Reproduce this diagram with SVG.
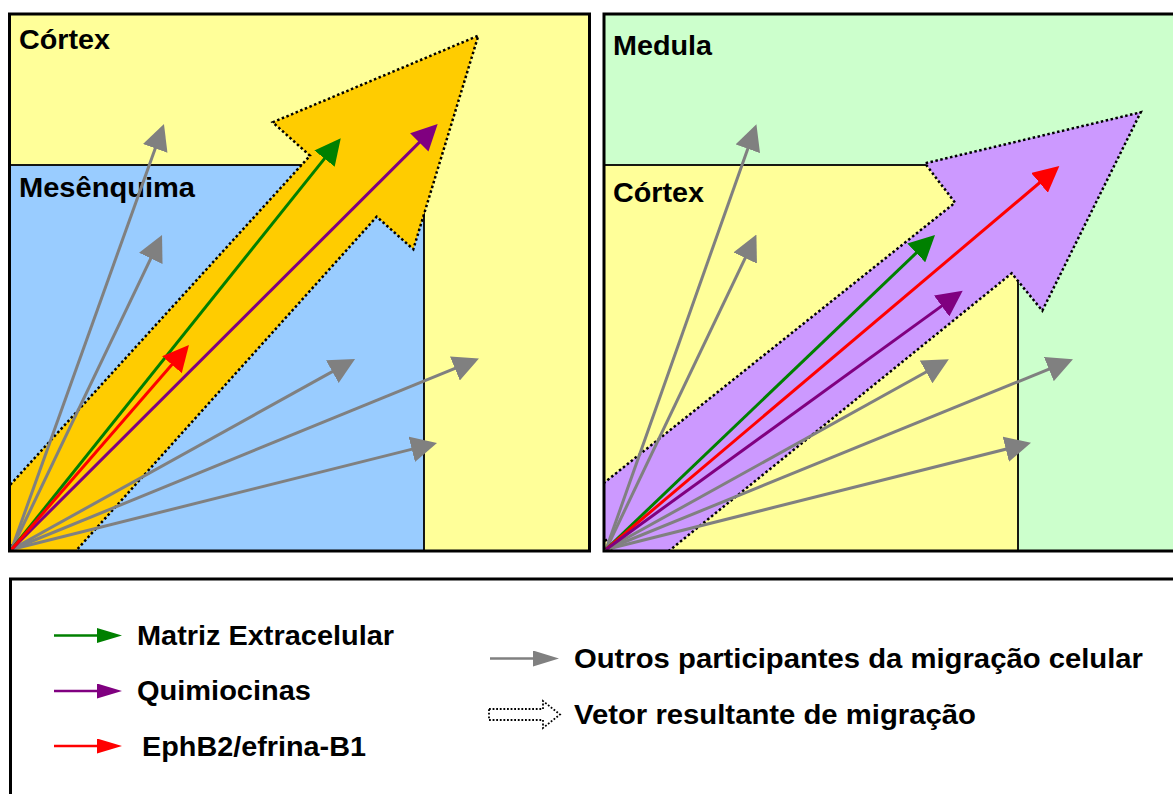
<svg xmlns="http://www.w3.org/2000/svg" width="1173" height="794" viewBox="0 0 1173 794">
<style>
.lbl{font-family:"Liberation Sans",Arial,sans-serif;font-weight:bold;font-size:28px;fill:#000}
.frame{fill:none;stroke:#000;stroke-width:3}
.inner{stroke:#000;stroke-width:1.8}
.big{stroke:#000;stroke-width:2.5;stroke-dasharray:2.5 2.5}
.ln{fill:none;stroke-width:3}
.lg{fill:none;stroke-width:2.5}
.gray{stroke:#808080}
.green{stroke:#008000}
.purple{stroke:#800080}
.red{stroke:#FF0000}
</style>
<defs>
<marker id="mGray" markerUnits="userSpaceOnUse" markerWidth="26" markerHeight="26" refX="16" refY="13" orient="auto"><path d="M0,0 L26,13 L0,26 Z" fill="#808080"/></marker>
<marker id="mGreen" markerUnits="userSpaceOnUse" markerWidth="26" markerHeight="26" refX="16" refY="13" orient="auto"><path d="M0,0 L26,13 L0,26 Z" fill="#008000"/></marker>
<marker id="mPurple" markerUnits="userSpaceOnUse" markerWidth="26" markerHeight="26" refX="16" refY="13" orient="auto"><path d="M0,0 L26,13 L0,26 Z" fill="#800080"/></marker>
<marker id="mRed" markerUnits="userSpaceOnUse" markerWidth="26" markerHeight="26" refX="16" refY="13" orient="auto"><path d="M0,0 L26,13 L0,26 Z" fill="#FF0000"/></marker>
<marker id="lGray" markerUnits="userSpaceOnUse" markerWidth="26" markerHeight="16" refX="16" refY="8" orient="auto"><path d="M0,0 L26,8 L0,16 Z" fill="#808080"/></marker>
<marker id="lGreen" markerUnits="userSpaceOnUse" markerWidth="25" markerHeight="15" refX="15" refY="7.5" orient="auto"><path d="M0,0 L25,7.5 L0,15 Z" fill="#008000"/></marker>
<marker id="lPurple" markerUnits="userSpaceOnUse" markerWidth="25" markerHeight="15" refX="15" refY="7.5" orient="auto"><path d="M0,0 L25,7.5 L0,15 Z" fill="#800080"/></marker>
<marker id="lRed" markerUnits="userSpaceOnUse" markerWidth="25" markerHeight="15" refX="15" refY="7.5" orient="auto"><path d="M0,0 L25,7.5 L0,15 Z" fill="#FF0000"/></marker>
<clipPath id="clipL"><rect x="9.5" y="14" width="580" height="537"/></clipPath>
<clipPath id="clipR"><rect x="604" y="14" width="580" height="537"/></clipPath>
</defs>
<rect width="1173" height="794" fill="#fff"/>

<g id="panel-left">
<rect x="9.5" y="14" width="580" height="537" fill="#FFFF99"/>
<rect id="mesenquima" class="inner" x="9.5" y="165" width="414.5" height="386" fill="#99CCFF"/>
<text class="lbl" x="19" y="49" textLength="91" lengthAdjust="spacingAndGlyphs">Córtex</text>
<text class="lbl" x="19" y="197" textLength="176" lengthAdjust="spacingAndGlyphs">Mesênquima</text>
<polygon id="vetor-left" class="big" clip-path="url(#clipL)" fill="#FFCC00" points="-20,518 310,155.7 272.7,122.3 478.3,35.7 413.3,249.3 376.7,216.7 49.7,580"/>
</g>

<g id="panel-right">
<rect x="604" y="14" width="580" height="537" fill="#CCFFCC"/>
<rect id="cortex-right" class="inner" x="604" y="165" width="414" height="386" fill="#FFFF99"/>
<text class="lbl" x="613" y="55" textLength="99" lengthAdjust="spacingAndGlyphs">Medula</text>
<text class="lbl" x="613" y="202" textLength="91" lengthAdjust="spacingAndGlyphs">Córtex</text>
<polygon id="vetor-right" class="big" clip-path="url(#clipR)" fill="#CC99FF" points="580,502 955,202.7 925,163.3 1140.7,112.3 1042.3,310.7 1011.7,273.3 633,580"/>
</g>

<g id="connectors">
<line class="ln gray" x1="11.5" y1="549.5" x2="160.6" y2="133.4" marker-end="url(#mGray)"/>
<line class="ln gray" x1="11.5" y1="549.5" x2="157.7" y2="244" marker-end="url(#mGray)"/>
<line class="ln gray" x1="11.5" y1="549.5" x2="346.3" y2="363.9" marker-end="url(#mGray)"/>
<line class="ln gray" x1="11.5" y1="549.5" x2="469.7" y2="362.4" marker-end="url(#mGray)"/>
<line class="ln gray" x1="11.5" y1="549.5" x2="427.3" y2="445.4" marker-end="url(#mGray)"/>
<line class="ln green" x1="11.5" y1="549.5" x2="334.5" y2="146.1" marker-end="url(#mGreen)"/>
<line class="ln purple" x1="11.5" y1="549.5" x2="430.6" y2="131.1" marker-end="url(#mPurple)"/>
<line class="ln red" x1="11.5" y1="549.5" x2="182.4" y2="352.6" marker-end="url(#mRed)"/>

<line class="ln gray" x1="606" y1="549.5" x2="753.1" y2="133.7" marker-end="url(#mGray)"/>
<line class="ln gray" x1="606" y1="549.5" x2="752.1" y2="243.6" marker-end="url(#mGray)"/>
<line class="ln gray" x1="606" y1="549.5" x2="940.1" y2="364.2" marker-end="url(#mGray)"/>
<line class="ln gray" x1="606" y1="549.5" x2="1063.7" y2="363.1" marker-end="url(#mGray)"/>
<line class="ln gray" x1="606" y1="549.5" x2="1021.3" y2="445.3" marker-end="url(#mGray)"/>
<line class="ln green" x1="606" y1="549.5" x2="927.8" y2="241.9" marker-end="url(#mGreen)"/>
<line class="ln red" x1="606" y1="549.5" x2="1051.7" y2="172.5" marker-end="url(#mRed)"/>
<line class="ln purple" x1="606" y1="549.5" x2="954.6" y2="296.6" marker-end="url(#mPurple)"/>
</g>

<rect class="frame" x="9.5" y="14" width="580" height="537"/>
<rect class="frame" x="604" y="14" width="580" height="537"/>

<g id="legend">
<rect class="frame" x="10.5" y="579" width="1200" height="250" fill="#fff"/>
<line class="lg green" x1="54" y1="635.5" x2="112" y2="635.5" marker-end="url(#lGreen)"/>
<text class="lbl" x="137" y="645" textLength="257" lengthAdjust="spacingAndGlyphs">Matriz Extracelular</text>
<line class="lg purple" x1="54" y1="691" x2="112" y2="691" marker-end="url(#lPurple)"/>
<text class="lbl" x="137" y="700" textLength="174" lengthAdjust="spacingAndGlyphs">Quimiocinas</text>
<line class="lg red" x1="54" y1="746" x2="112" y2="746" marker-end="url(#lRed)"/>
<text class="lbl" x="142" y="756" textLength="224" lengthAdjust="spacingAndGlyphs">EphB2/efrina-B1</text>
<line class="lg gray" x1="490" y1="658.5" x2="549" y2="658.5" marker-end="url(#lGray)"/>
<text class="lbl" x="574" y="668" textLength="569" lengthAdjust="spacingAndGlyphs">Outros participantes da migração celular</text>
<path d="M489,709 L543,709 L543,701 L560,714.5 L543,728 L543,720 L489,720 Z" fill="#fff" stroke="#000" stroke-width="1.8" stroke-dasharray="1.8 1.8"/>
<text class="lbl" x="574" y="724" textLength="402" lengthAdjust="spacingAndGlyphs">Vetor resultante de migração</text>
</g>
</svg>
